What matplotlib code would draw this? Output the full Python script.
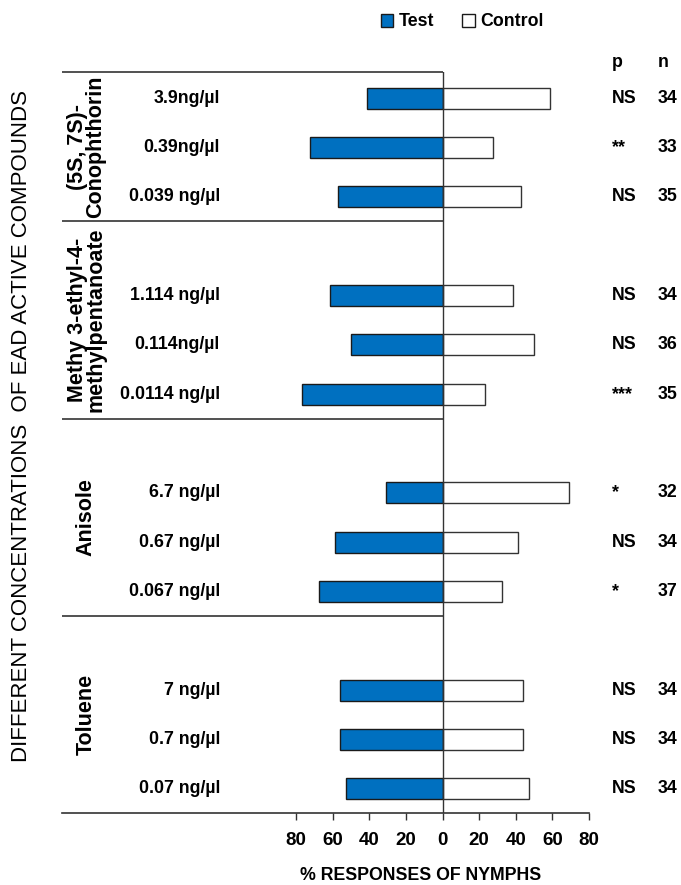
import matplotlib
matplotlib.use("Agg")
import matplotlib.pyplot as plt
from matplotlib import font_manager
from matplotlib.patches import Patch

plt.rcParams['font.family'] = ['Liberation Sans', 'DejaVu Sans']

# condensed face for the horizontal labels when it is available
_names = {f.name for f in font_manager.fontManager.ttflist}
if "Liberation Sans Narrow" in _names:
    LABEL_FONT = ["Liberation Sans Narrow", "Liberation Sans", "DejaVu Sans"]
    LABEL_SCALE = 1.15
else:
    LABEL_FONT = ["Liberation Sans", "DejaVu Sans"]
    LABEL_SCALE = 1.0

# Compounds and their tested concentrations (top to bottom)
compounds = ["(5S, 7S)-\nConophthorin",
             "Methy 3-ethyl-4-\nmethylpentanoate",
             "Anisole",
             "Toluene"]
concentrations = [
    ["3.9ng/\u00b5l", "0.39ng/\u00b5l", "0.039 ng/\u00b5l"],
    ["1.114 ng/\u00b5l", "0.114ng/\u00b5l", "0.0114 ng/\u00b5l"],
    ["6.7 ng/\u00b5l", "0.67 ng/\u00b5l", "0.067 ng/\u00b5l"],
    ["7 ng/\u00b5l", "0.7 ng/\u00b5l", "0.07 ng/\u00b5l"],
]
# % of nymphs choosing each arm
test_pct = [41.2, 72.7, 57.1,
            61.8, 50.0, 77.1,
            31.2, 58.8, 67.6,
            55.9, 55.9, 52.9]
control_pct = [58.8, 27.3, 42.9,
               38.2, 50.0, 22.9,
               68.8, 41.2, 32.4,
               44.1, 44.1, 47.1]
p_labels = ["NS", "**", "NS",
            "NS", "NS", "***",
            "*", "NS", "*",
            "NS", "NS", "NS"]
n_labels = ["34", "33", "35",
            "34", "36", "35",
            "32", "34", "37",
            "34", "34", "34"]
tick_values = [-80, -60, -40, -20, 0, 20, 40, 60, 80]

BLUE = "#0070C0"
W, H = 681, 885
fig = plt.figure(figsize=(W / 100, H / 100), dpi=100)
fig.patch.set_facecolor("white")


def lab(size):
    return dict(family=LABEL_FONT, fontsize=size * LABEL_SCALE,
                fontweight="bold")


x_left, x_right = -208, 80
y_top, y_bot = -0.53, 14.49
ax = fig.add_axes([62 / W, 1 - 813 / H, (589 - 62) / W, (813 - 72) / H])
ax.set_xlim(x_left, x_right)
ax.set_ylim(y_bot, y_top)

# row layout: one blank row opens each compound block except the first
rows = []
group_bounds = []
slot = 0
for g, concs in enumerate(concentrations):
    start = slot - 0.5 if g > 0 else y_top
    if g > 0:
        slot += 1
    for _ in concs:
        rows.append(slot)
        slot += 1
    group_bounds.append((start, slot - 0.5 if g < len(concentrations) - 1 else y_bot))

bar_h = 0.43
ax.barh(rows, [-v for v in test_pct], height=bar_h, color=BLUE,
        edgecolor="#1a1a1a", linewidth=1.0, zorder=3)
ax.barh(rows, control_pct, height=bar_h, color="white",
        edgecolor="#333333", linewidth=1.0, zorder=3)

# frame lines
ax.axvline(0, color="#333333", lw=1.0, zorder=4)
ax.hlines(y_top, x_left, 0, color="#333333", lw=1.2, clip_on=False)
for start, end in group_bounds[1:]:
    ax.hlines(start, x_left, 0, color="#333333", lw=1.2)

for s in ["top", "left", "right"]:
    ax.spines[s].set_visible(False)
ax.spines["bottom"].set_color("#333333")
ax.spines["bottom"].set_linewidth(1.2)

ax.set_yticks([])
ax.set_xticks(tick_values)
ax.set_xticklabels([str(abs(v)) for v in tick_values])
for t in ax.get_xticklabels():
    t.set_fontproperties(font_manager.FontProperties(**{
        "family": LABEL_FONT, "size": 13.5 * LABEL_SCALE, "weight": "bold"}))
ax.tick_params(axis="x", direction="out", length=5, width=1.0,
               color="#333333", pad=8.5)

# concentration labels
flat_concs = [c for concs in concentrations for c in concs]
for r, txt in zip(rows, flat_concs):
    ax.text(-121.7, r, txt, ha="right", va="center", **lab(12.8))

# compound labels
for (start, end), name in zip(group_bounds, compounds):
    ax.text(-194.7, (start + end) / 2, name, rotation=90, ha="center",
            va="center", fontsize=15.5, fontweight="bold", linespacing=0.85,
            multialignment="center")

# significance and sample sizes
ax.text(92.5, -0.72, "p", ha="left", va="center", clip_on=False, **lab(12.8))
ax.text(117.5, -0.72, "n", ha="left", va="center", clip_on=False, **lab(12.8))
for r, p, n in zip(rows, p_labels, n_labels):
    ax.text(92.5, r, p, ha="left", va="center", clip_on=False, **lab(12.8))
    ax.text(117.5, r, n, ha="left", va="center", clip_on=False, **lab(12.8))

# axis titles
fig.text(421 / W, 1 - 875 / H, "% RESPONSES OF NYMPHS", ha="center",
         va="center", **lab(12.8))
fig.text(21.5 / W, 1 - 426 / H,
         "DIFFERENT CONCENTRATIONS  OF EAD ACTIVE COMPOUNDS",
         rotation=90, ha="center", va="center", fontsize=16)

# legend
handles = [Patch(facecolor=BLUE, edgecolor="#1a1a1a", label="Test"),
           Patch(facecolor="white", edgecolor="#1a1a1a", label="Control")]
fig.legend(handles=handles, loc="center", ncol=2, frameon=False,
           bbox_to_anchor=(462 / W, 1 - 22 / H), handlelength=0.7,
           handleheight=0.7, handletextpad=0.3, columnspacing=1.6,
           prop=font_manager.FontProperties(family=LABEL_FONT,
                                            size=12.8 * LABEL_SCALE,
                                            weight="bold"))

fig.savefig("out.png", dpi=100, facecolor="white")
